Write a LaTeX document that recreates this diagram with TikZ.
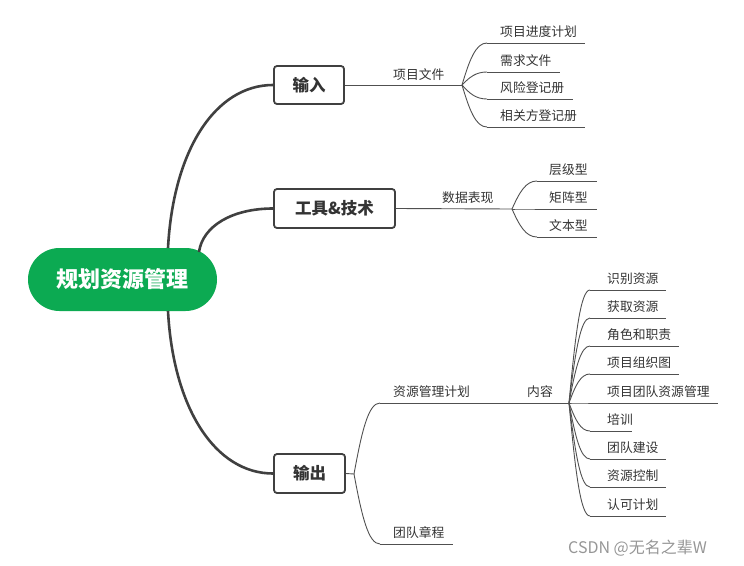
\documentclass[tikz,border=0pt]{standalone}
\usepackage{fontspec}
\setmainfont{Noto Sans CJK SC}
\usetikzlibrary{calc}
\definecolor{pillgreen}{RGB}{12,170,82}
\definecolor{mainline}{RGB}{64,64,64}
\definecolor{leafline}{RGB}{80,80,80}
\definecolor{txt}{RGB}{51,51,51}
\definecolor{wm}{RGB}{150,150,150}
\tikzset{
  pill/.style={fill=pillgreen, rounded corners=31.5pt, minimum width=189pt, minimum height=63pt, inner sep=0pt, text=white, font=\fontsize{22}{24}\selectfont\bfseries},
  topicbox/.style={draw=mainline, line width=1.8pt, rounded corners=3pt, fill=white, inner sep=0pt, text=txt, font=\fontsize{16.5}{19}\selectfont\bfseries},
  mainconn/.style={draw=mainline, line width=2.6pt},
  leafconn/.style={draw=leafline, line width=0.9pt},
  leaftext/.style={anchor=base west, inner sep=0pt, text=txt, font=\fontsize{12.8}{14}\selectfont},
  wmtext/.style={anchor=base west, inner sep=0pt, text=wm, font=\fontsize{16}{18}\selectfont}
}
\newcommand\leafcurve[2]{\draw[leafconn] let \p1=(#1), \p2=(#2) in (#1) .. controls ({\x1+0.3*(\x2-\x1)},{\y1+0.6*(\y2-\y1)}) and ({\x2-0.45*(\x2-\x1)},{\y2}) .. (#2);}
\newcommand\maincurve[2]{\draw[mainconn] let \p1=(#1), \p2=(#2) in (#1) .. controls ({\x1+0.05*(\x2-\x1)},{\y1+0.6*(\y2-\y1)}) and ({\x2-0.55*(\x2-\x1)},{\y2}) .. (#2);}
\begin{document}
\begin{tikzpicture}[x=1pt,y=-1pt]
\useasboundingbox (0,0) rectangle (744,565);
% central topic
\node[pill] (root) at (122.5,279.5) {规划资源管理};
% main topics
\node[topicbox, minimum width=70pt, minimum height=38pt] (in1) at (309,85) {输入};
\node[topicbox, minimum width=121pt, minimum height=39pt] (tool) at (334.5,208.5) {工具\&技术};
\node[topicbox, minimum width=71pt, minimum height=39pt] (out) at (309.5,473.5) {输出};
% main connectors
\coordinate (r1) at (168,248);
\coordinate (r2) at (199,252);
\coordinate (r3) at (168,311);
\maincurve{r1}{in1.west}
\maincurve{r2}{tool.west}
\maincurve{r3}{out.west}

% ---- 输入 branch
\coordinate (f1) at (462,85);
\draw[leafconn] (in1.east) -- (f1);
\node[leaftext] (t10) at (393,79) {项目文件};
\coordinate (s11) at (487,43);  \coordinate (e11) at (585,43);
\coordinate (s12) at (487,72);  \coordinate (e12) at (560,72);
\coordinate (s13) at (487,99);  \coordinate (e13) at (573,99);
\coordinate (s14) at (487,127); \coordinate (e14) at (585,127);
\foreach \i in {11,12,13,14}{\leafcurve{f1}{s\i} \draw[leafconn] (s\i) -- (e\i);}
\node[leaftext] (t11) at (500,36) {项目进度计划};
\node[leaftext] (t12) at (500,65) {需求文件};
\node[leaftext] (t13) at (500,92) {风险登记册};
\node[leaftext] (t14) at (500,120) {相关方登记册};

% ---- 工具&技术 branch
\coordinate (f2) at (512,209);
\draw[leafconn] (tool.east) -- (f2);
\node[leaftext] (t20) at (442,202) {数据表现};
\coordinate (s21) at (537,181); \coordinate (e21) at (597,181);
\coordinate (s22) at (537,209); \coordinate (e22) at (597,209);
\coordinate (s23) at (537,237); \coordinate (e23) at (597,237);
\foreach \i in {21,22,23}{\leafcurve{f2}{s\i} \draw[leafconn] (s\i) -- (e\i);}
\node[leaftext] (t21) at (549,174) {层级型};
\node[leaftext] (t22) at (549,202) {矩阵型};
\node[leaftext] (t23) at (549,230) {文本型};

% ---- 输出 branch
\coordinate (f3) at (354,474);
\draw[leafconn] (out.east) -- (f3);
\coordinate (s31) at (380,403);
\coordinate (f4) at (569,403);
\coordinate (s32) at (380,544); \coordinate (e32) at (453,544);
\leafcurve{f3}{s31}
\leafcurve{f3}{s32}
\draw[leafconn] (s31) -- (f4);
\draw[leafconn] (s32) -- (e32);
\node[leaftext] (t31) at (393,396) {资源管理计划};
\node[leaftext] (t3c) at (527,396) {内容};
\node[leaftext] (t32) at (393,537) {团队章程};

% 内容 leaves
\coordinate (s41) at (590,290); \coordinate (e41) at (666,290);
\coordinate (s42) at (590,318); \coordinate (e42) at (666,318);
\coordinate (s43) at (590,346); \coordinate (e43) at (679,346);
\coordinate (s44) at (590,374); \coordinate (e44) at (679,374);
\coordinate (s45) at (590,403); \coordinate (e45) at (718,403);
\coordinate (s46) at (590,431); \coordinate (e46) at (632,431);
\coordinate (s47) at (590,459); \coordinate (e47) at (666,459);
\coordinate (s48) at (590,487); \coordinate (e48) at (666,487);
\coordinate (s49) at (590,516); \coordinate (e49) at (666,516);
\foreach \i in {41,...,49}{\leafcurve{f4}{s\i} \draw[leafconn] (s\i) -- (e\i);}
\node[leaftext] (t41) at (607,283) {识别资源};
\node[leaftext] (t42) at (607,311) {获取资源};
\node[leaftext] (t43) at (607,339) {角色和职责};
\node[leaftext] (t44) at (607,367) {项目组织图};
\node[leaftext] (t45) at (607,396) {项目团队资源管理};
\node[leaftext] (t46) at (607,424) {培训};
\node[leaftext] (t47) at (607,452) {团队建设};
\node[leaftext] (t48) at (607,480) {资源控制};
\node[leaftext] (t49) at (607,509) {认可计划};

% watermark
\node[wmtext] (wm) at (568,553) {CSDN @无名之辈W};
\end{tikzpicture}
\end{document}
